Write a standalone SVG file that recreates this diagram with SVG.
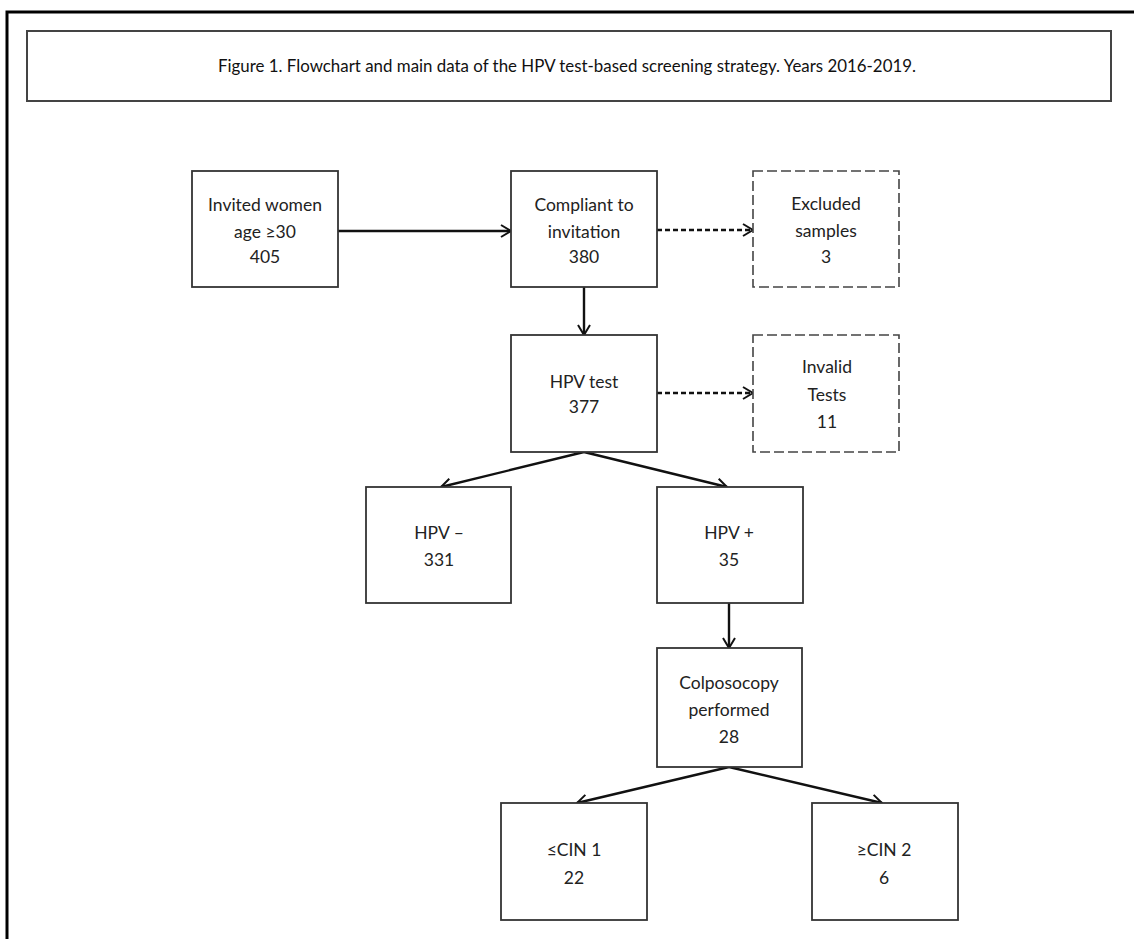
<svg xmlns="http://www.w3.org/2000/svg" width="1134" height="939" viewBox="0 0 1134 939">
<defs>
<style>
.frame{fill:none;stroke:#000;stroke-width:3}
.box{fill:#fff;stroke:#333;stroke-width:1.8}
.dbox{fill:#fff;stroke:#444;stroke-width:1.6;stroke-dasharray:10 4}
.lbl{font-family:Lato,"Open Sans",sans-serif;font-size:17.5px;fill:#222;text-anchor:middle}
.ttl{font-family:Lato,"Open Sans",sans-serif;font-size:17px;fill:#111;text-anchor:middle}
.arr{fill:none;stroke:#111;stroke-width:2.4;marker-end:url(#ah)}
.darr{fill:none;stroke:#111;stroke-width:2.4;stroke-dasharray:5 3;marker-end:url(#ah)}
</style>
<marker id="ah" viewBox="0 0 12 14" refX="11" refY="7" markerWidth="12" markerHeight="14" markerUnits="userSpaceOnUse" orient="auto">
<path d="M1,1 L11,7 L1,13" fill="none" stroke="#111" stroke-width="2"/>
</marker>
</defs>
<rect width="1134" height="939" fill="#fff"/>
<path class="frame" d="M7,939 L7,12 L1134,12"/>
<g id="title">
<rect x="27" y="31" width="1084" height="70" fill="#fff" stroke="#444" stroke-width="2"/>
<text class="ttl" x="567" y="72" textLength="698" lengthAdjust="spacingAndGlyphs">Figure 1. Flowchart and main data of the HPV test-based screening strategy. Years 2016-2019.</text>
</g>
<g id="connectors">
<path class="arr" d="M338,231 L511,231"/>
<path class="darr" d="M657,230 L753,230"/>
<path class="arr" d="M584,287 L584,335"/>
<path class="darr" d="M657,393 L753,393"/>
<path class="arr" d="M584,452 L441,487"/>
<path class="arr" d="M584,452 L727,487"/>
<path class="arr" d="M729,603 L729,648"/>
<path class="arr" d="M729,767 L577,803"/>
<path class="arr" d="M729,767 L882,803"/>
</g>
<g id="invited">
<rect class="box" x="192" y="171" width="146" height="116"/>
<text class="lbl" x="265" y="211">Invited women</text>
<text class="lbl" x="265" y="238">age ≥30</text>
<text class="lbl" x="265" y="263">405</text>
</g>
<g id="compliant">
<rect class="box" x="511" y="171" width="146" height="116"/>
<text class="lbl" x="584" y="211">Compliant to</text>
<text class="lbl" x="584" y="238">invitation</text>
<text class="lbl" x="584" y="263">380</text>
</g>
<g id="excluded">
<rect class="dbox" x="753" y="171" width="146" height="116"/>
<text class="lbl" x="826" y="210">Excluded</text>
<text class="lbl" x="826" y="237">samples</text>
<text class="lbl" x="826" y="263">3</text>
</g>
<g id="hpvtest">
<rect class="box" x="511" y="335" width="146" height="117"/>
<text class="lbl" x="584" y="388">HPV test</text>
<text class="lbl" x="584" y="413">377</text>
</g>
<g id="invalid">
<rect class="dbox" x="753" y="335" width="146" height="117"/>
<text class="lbl" x="827" y="373">Invalid</text>
<text class="lbl" x="827" y="401">Tests</text>
<text class="lbl" x="827" y="428">11</text>
</g>
<g id="hpvneg">
<rect class="box" x="366" y="487" width="145" height="116"/>
<text class="lbl" x="439" y="539">HPV –</text>
<text class="lbl" x="439" y="566">331</text>
</g>
<g id="hpvpos">
<rect class="box" x="657" y="487" width="146" height="116"/>
<text class="lbl" x="729" y="539">HPV +</text>
<text class="lbl" x="729" y="566">35</text>
</g>
<g id="colposcopy">
<rect class="box" x="657" y="648" width="145" height="119"/>
<text class="lbl" x="729" y="689">Colposocopy</text>
<text class="lbl" x="729" y="716">performed</text>
<text class="lbl" x="729" y="743">28</text>
</g>
<g id="cin1">
<rect class="box" x="501" y="803" width="146" height="117"/>
<text class="lbl" x="574" y="856">≤CIN 1</text>
<text class="lbl" x="574" y="884">22</text>
</g>
<g id="cin2">
<rect class="box" x="812" y="803" width="146" height="117"/>
<text class="lbl" x="884" y="856">≥CIN 2</text>
<text class="lbl" x="884" y="884">6</text>
</g>
</svg>
